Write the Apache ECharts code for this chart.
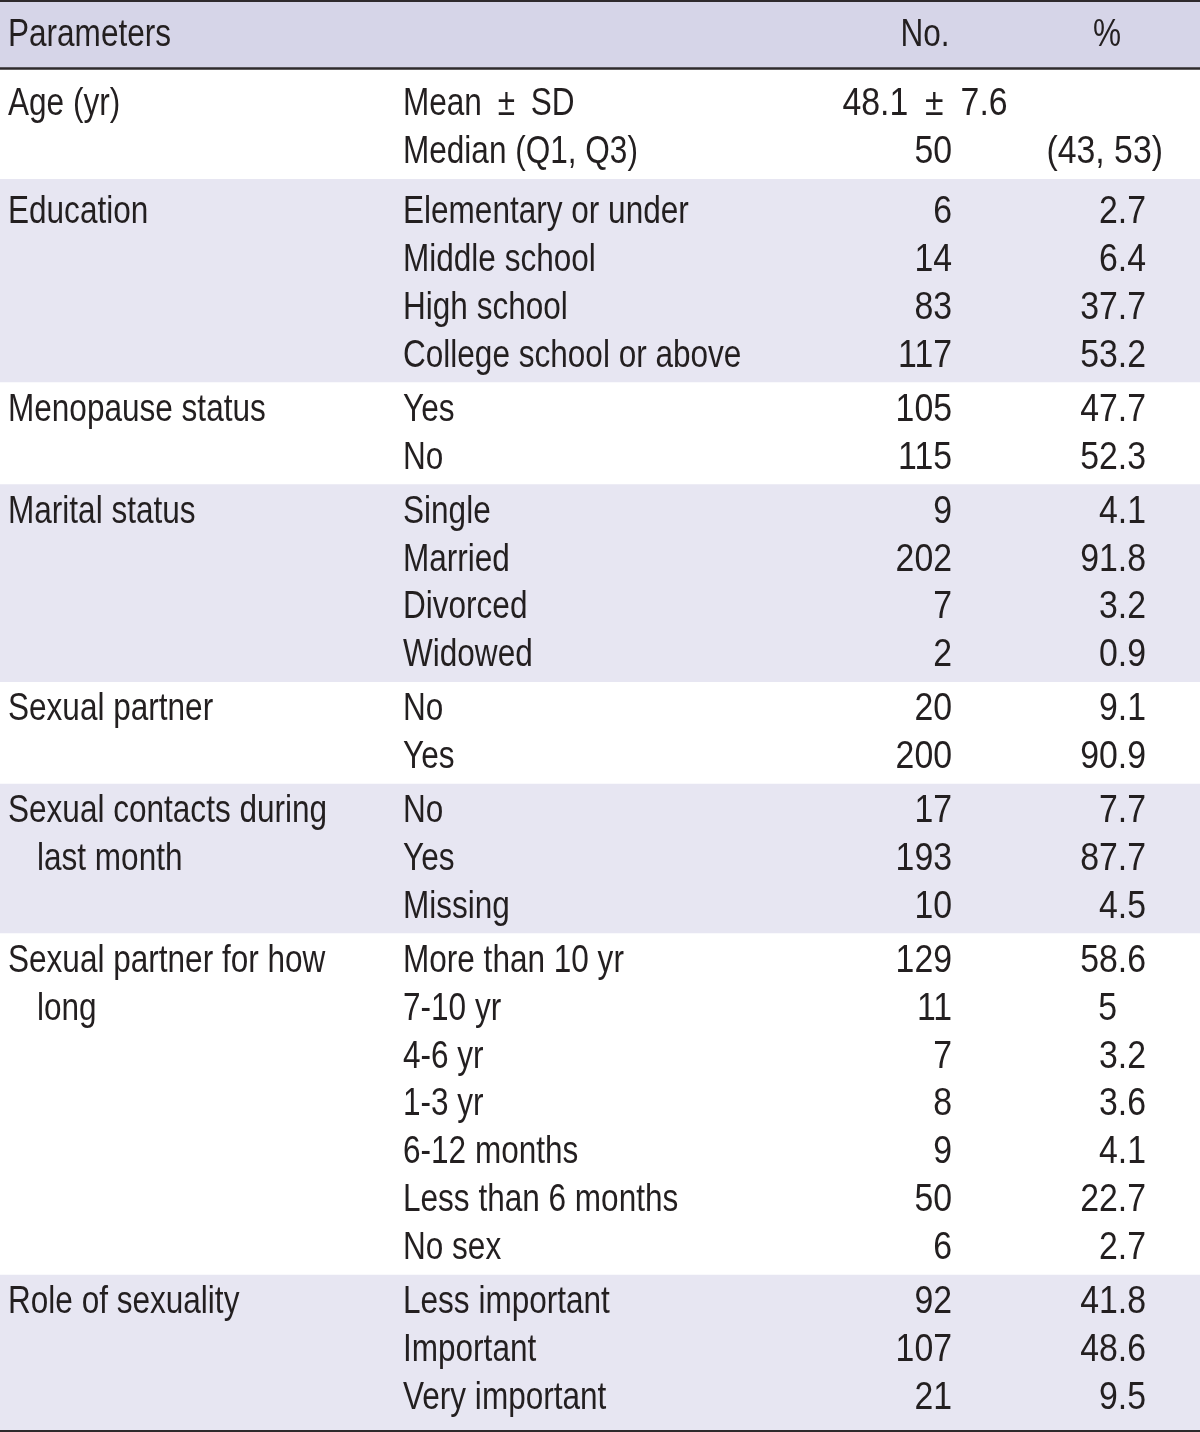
<!DOCTYPE html>
<html>
<head>
<meta charset="utf-8">
<script src="https://cdn.jsdelivr.net/npm/echarts@6/dist/echarts.min.js"></script>
<style>
html,body{margin:0;padding:0;background:#fff;}
#chart{width:1200px;height:1432px;}
</style>
</head>
<body>
<div id="chart"></div>
<script>
// ---- Data ----
const headers = ["Parameters", "No.", "%"];
const groupLabels = [
  ["Age (yr)"],
  ["Education"],
  ["Menopause status"],
  ["Marital status"],
  ["Sexual partner"],
  ["Sexual contacts during", "last month"],
  ["Sexual partner for how", "long"],
  ["Role of sexuality"]
];
const rowGroup = [0,0, 1,1,1,1, 2,2, 3,3,3,3, 4,4, 5,5,5, 6,6,6,6,6,6,6, 7,7,7];
const rowLabels = [
  "Mean ± SD", "Median (Q1, Q3)",
  "Elementary or under", "Middle school", "High school", "College school or above",
  "Yes", "No",
  "Single", "Married", "Divorced", "Widowed",
  "No", "Yes",
  "No", "Yes", "Missing",
  "More than 10 yr", "7-10 yr", "4-6 yr", "1-3 yr", "6-12 months", "Less than 6 months", "No sex",
  "Less important", "Important", "Very important"
];
const noValues = [
  "48.1 ± 7.6", "50",
  "6", "14", "83", "117",
  "105", "115",
  "9", "202", "7", "2",
  "20", "200",
  "17", "193", "10",
  "129", "11", "7", "8", "9", "50", "6",
  "92", "107", "21"
];
const pctValues = [
  "", "(43, 53)",
  "2.7", "6.4", "37.7", "53.2",
  "47.7", "52.3",
  "4.1", "91.8", "3.2", "0.9",
  "9.1", "90.9",
  "7.7", "87.7", "4.5",
  "58.6", "5", "3.2", "3.6", "4.1", "22.7", "2.7",
  "41.8", "48.6", "9.5"
];

// ---- Layout (styling) ----
const W = 1200, H = 1432;
const FONT = '"Liberation Sans", Arial, sans-serif';
const FS = 38;
const SX_TEXT = 0.83;      // horizontal condensing of the type
const SX_NUM = 0.89;       // numerals are a little wider in the original face
const TEXT = '#231f20';
const LINE = '#2e2a2c';
const HEAD_BG = '#d6d5e8';
const BAND_BG = '#e7e6f2';
const ROW_H = 47.9, GAP = 6, FIRST_Y = 105, FIRST_EXTRA = 6;
const X_PARAM = 8, X_INDENT = 37, X_SUB = 403;
const X_NO_RIGHT = 952, X_NO_CENTER = 925;
const X_PCT_DEC = 1146, X_PCT_INT = 1117, X_PCT_PAREN = 1163, X_PCT_CENTER = 1107;

function rowCenter(i) {
  const g = rowGroup[i];
  return FIRST_Y + i * ROW_H + GAP * g + (g >= 1 ? FIRST_EXTRA : 0);
}
const nGroups = groupLabels.length;
const groupRows = groupLabels.map((_, g) => rowGroup.map((gg, i) => gg === g ? i : -1).filter(i => i >= 0));
function bandTop(g) { return g === 0 ? 69.5 : rowCenter(groupRows[g - 1].slice(-1)[0]) + 26; }
function bandBottom(g) { return g === nGroups - 1 ? 1430 : rowCenter(groupRows[g].slice(-1)[0]) + 26; }

function txt(api, x, y, s, align, sx) {
  const p = api.coord([x, y]);
  return {
    type: 'text',
    x: p[0], y: p[1], scaleX: sx || SX_TEXT,
    style: {
      x: 0, y: 0, text: s, fill: TEXT,
      font: FS + 'px ' + FONT, align: align, verticalAlign: 'middle'
    }
  };
}

const chart = echarts.init(document.getElementById('chart'), null, {renderer: 'canvas'});
chart.setOption({
  animation: false,
  backgroundColor: '#fff',
  grid: {left: 0, right: 0, top: 0, bottom: 0},
  xAxis: {type: 'value', min: 0, max: W, show: false},
  yAxis: {type: 'value', min: 0, max: H, inverse: true, show: false},
  series: [
    {
      // group bands
      type: 'custom', silent: true, z: 1,
      data: groupLabels.map((_, g) => [0, g]),
      renderItem: function (params, api) {
        const g = api.value(1);
        const a = api.coord([0, bandTop(g)]);
        const b = api.coord([W, bandBottom(g)]);
        return {
          type: 'rect',
          shape: {x: a[0], y: a[1], width: b[0] - a[0], height: b[1] - a[1]},
          style: {fill: g % 2 === 1 ? BAND_BG : '#ffffff'}
        };
      }
    },
    {
      // header band, rules and header text
      type: 'custom', silent: true, z: 2,
      data: [[0, 0]],
      renderItem: function (params, api) {
        const a = api.coord([0, 2]);
        const b = api.coord([W, 68]);
        const hl = (y, w) => {
          const p = api.coord([0, y]), q = api.coord([W, y]);
          return {type: 'line', shape: {x1: p[0], y1: p[1], x2: q[0], y2: q[1]}, style: {stroke: LINE, lineWidth: w}};
        };
        return {
          type: 'group',
          children: [
            {type: 'rect', shape: {x: a[0], y: a[1], width: b[0] - a[0], height: b[1] - a[1]}, style: {fill: HEAD_BG}},
            hl(1, 2), hl(68.5, 2.5), hl(1431, 2),
            txt(api, X_PARAM, 36, headers[0], 'left'),
            txt(api, X_NO_CENTER, 36, headers[1], 'center'),
            txt(api, X_PCT_CENTER, 36, headers[2], 'center')
          ]
        };
      }
    },
    {
      // row texts
      type: 'custom', silent: true, z: 3,
      data: rowLabels.map((_, i) => [0, i]),
      renderItem: function (params, api) {
        const i = api.value(1);
        const y = rowCenter(i);
        const g = rowGroup[i];
        const children = [];
        const first = groupRows[g][0];
        const k = i - first;
        if (k < groupLabels[g].length) {
          children.push(txt(api, k === 0 ? X_PARAM : X_INDENT, y, groupLabels[g][k], 'left'));
        }
        children.push(txt(api, X_SUB, y, rowLabels[i].replace(' ± ', '\u2002±\u2002'), 'left'));
        const nv = noValues[i];
        if (nv.indexOf('±') >= 0) {
          children.push(txt(api, X_NO_CENTER, y, nv.replace(' ± ', '\u2002±\u2002'), 'center', SX_NUM));
        } else if (nv) {
          children.push(txt(api, X_NO_RIGHT, y, nv, 'right', SX_NUM));
        }
        const pv = pctValues[i];
        if (pv) {
          let x = X_PCT_INT;
          if (pv.indexOf('.') >= 0) x = X_PCT_DEC;
          else if (pv.charAt(0) === '(') x = X_PCT_PAREN;
          children.push(txt(api, x, y, pv, 'right', SX_NUM));
        }
        return {type: 'group', children: children};
      }
    }
  ]
});
</script>
</body>
</html>
